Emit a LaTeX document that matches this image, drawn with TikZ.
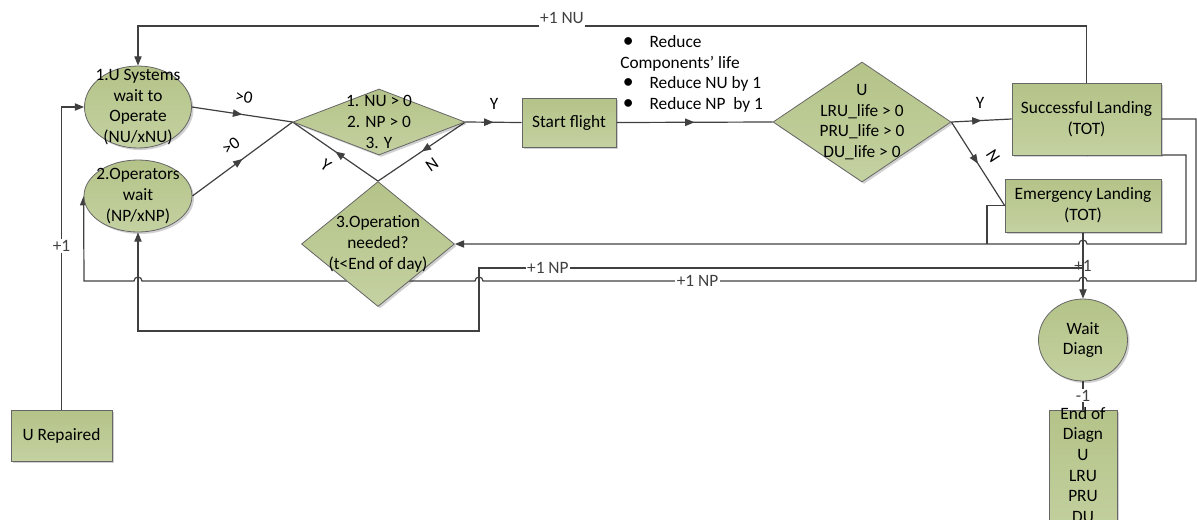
\documentclass[tikz,border=0pt]{standalone}
\usepackage{fontspec}
\setmainfont{Carlito}
\usetikzlibrary{positioning,arrows.meta,shapes.geometric,shadows,decorations.markings,backgrounds}
\definecolor{grnTop}{RGB}{180,195,136}
\definecolor{grnBot}{RGB}{196,209,161}
\definecolor{lnGray}{RGB}{64,64,64}
\newcommand{\dgfont}{\fontsize{13}{15.5}\selectfont}
\newcommand{\blt}{\makebox[22pt][l]{\hspace{2pt}\scalebox{1.25}{\textbullet}}}

\begin{document}
\begin{tikzpicture}[x=0.75pt, y=-0.75pt,
  shp/.style={draw=black!60, line width=0.6pt, top color=grnTop, bottom color=grnBot,
              drop shadow={shadow xshift=1.5pt, shadow yshift=-1.5pt, opacity=0.18, fill=black}},
  box/.style={shp, rectangle, align=center, inner sep=2pt, font=\dgfont},
  oval/.style={shp, ellipse, inner sep=0pt, align=center, font=\dgfont},
  dmd/.style={shp, diamond, inner sep=0pt},
  txt/.style={align=center, inner sep=0pt, font=\dgfont},
  lbl/.style={font=\dgfont, inner sep=1pt},
  line/.style={color=lnGray, line width=0.9pt},
  arr/.style={line, -{Triangle[length=7pt,width=5.5pt]}},
  midarr/.style={line, postaction={decorate}, decoration={markings,
      mark=at position #1 with {\arrow{Triangle[length=7pt,width=5.5pt]}}}},
  midarr/.default=0.5,
]
\useasboundingbox (0,0) rectangle (1197,519);

% waiting queues
\node[oval, minimum width=80.25pt, minimum height=61.5pt] (sysw) at (138,107) {};
\node[txt] (sysw-t) at (sysw) {1.U Systems\\wait to\\Operate\\(NU/xNU)};
\node[oval, minimum width=81pt, minimum height=54pt] (ops) at (138,196) {};
\node[txt] (ops-t) at (ops) {2.Operators\\wait\\(NP/xNP)};

% decisions and flight
\node[dmd, minimum width=129pt, minimum height=49.5pt] (chk) at (379,122) {};
\node[txt] (chk-t) at (chk) {1. NU > 0\\2. NP > 0\\3. Y};
\node[dmd, minimum width=114.75pt, minimum height=93.75pt] (opn) at (378,244) {};
\node[txt] (opn-t) at (opn) {3.Operation\\needed?\\(t<End of day)};
\node[box, minimum width=70.5pt, minimum height=36.75pt] (sf) at (569,122.5) {Start flight};
\node[txt, anchor=west, align=left] (red) at (620,74)
  {\blt Reduce\\Components’ life\\\blt Reduce NU by 1\\\blt Reduce NP\ \ by 1};
\node[dmd, minimum width=133.5pt, minimum height=90pt] (lc) at (862,122) {};
\node[txt] (lc-t) at (lc) {U\\LRU\_life > 0\\PRU\_life > 0\\DU\_life > 0};

% landings and diagnosis
\node[box, minimum width=111.75pt, minimum height=54pt] (sl) at (1086.5,119) {Successful Landing\\(TOT)};
\node[box, minimum width=117pt, minimum height=39.75pt] (el) at (1083,205.5) {Emergency Landing\\(TOT)};
\node[oval, minimum width=66.75pt, minimum height=61.5pt] (wd) at (1083,340) {Wait\\Diagn};
\node[box, minimum width=51pt, minimum height=97.5pt] (eod) at (1083,475) {};
\node[txt] (eod-t) at (1083,465) {End of\\Diagn\\U\\LRU\\PRU\\DU};
\node[box, minimum width=75.75pt, minimum height=38.25pt] (urep) at (61.5,435.5) {U Repaired};

% branch labels
\node[lbl, rotate=-8] (gt1) at (244,97) {>0};
\node[lbl, rotate=36] (gt2) at (231,146) {>0};
\node[lbl] (y1) at (494,104) {Y};
\node[lbl, rotate=35] (n1) at (432,165) {N};
\node[lbl, rotate=-35] (y2) at (326,165) {Y};
\node[lbl] (y3) at (980,103) {Y};
\node[lbl, rotate=-57] (n2) at (993,156) {N};

\begin{scope}[on background layer]
% forward flow
\foreach \a/\b in {sysw.east/chk.west, ops.east/chk.west, chk.east/sf.west,
                   chk.east/opn.north, opn.north/chk.west, sf.east/lc.west,
                   lc.east/sl.west, lc.east/el.west}
  \draw[midarr] (\a) -- (\b);

% returns to the queues
\draw[arr] (sl.north) -- (1086.5,26) -- node[lbl, fill=white, inner ysep=3pt, pos=0.553, yshift=6pt] (nu1) {+1 NU} (138,26) -- (sysw.north);
\draw[arr] (urep.north) -- node[lbl, fill=white, pos=0.54] (p1a) {+1} (61.5,107) -- (sysw.west);
\draw[arr] (sl.east) -- (1196,119) -- (1196,281) -- (1087,281)
  arc[start angle=0, end angle=180, radius=3pt] -- node[lbl, fill=white, pos=0.64] (np2) {+1 NP} (483,281)
  arc[start angle=0, end angle=180, radius=3pt] -- (142,281)
  arc[start angle=0, end angle=180, radius=3pt] -- (84,281) -- (ops.west);
\draw[arr] (sl.south) -- (1186,155) -- (1186,244) -- (1087,244)
  arc[start angle=0, end angle=180, radius=3pt] -- (opn.east);
\draw[line] (el.west) -- (987,205.5) -- (987,244);

% emergency landing to diagnosis
\draw[arr] (el.south) -- node[lbl, pos=0.5] (p1b) {+1} (wd.north);
\coordinate (jn) at (1083,268);
\draw[arr] (jn) -- node[lbl, fill=white, pos=0.886] (np1) {+1 NP} (479,268) -- (479,331) -- (138,331) -- (ops.south);
\draw[line] (wd.south) -- node[lbl, fill=white] (m1) {-1} (eod.north);
\end{scope}
\end{tikzpicture}
\end{document}
